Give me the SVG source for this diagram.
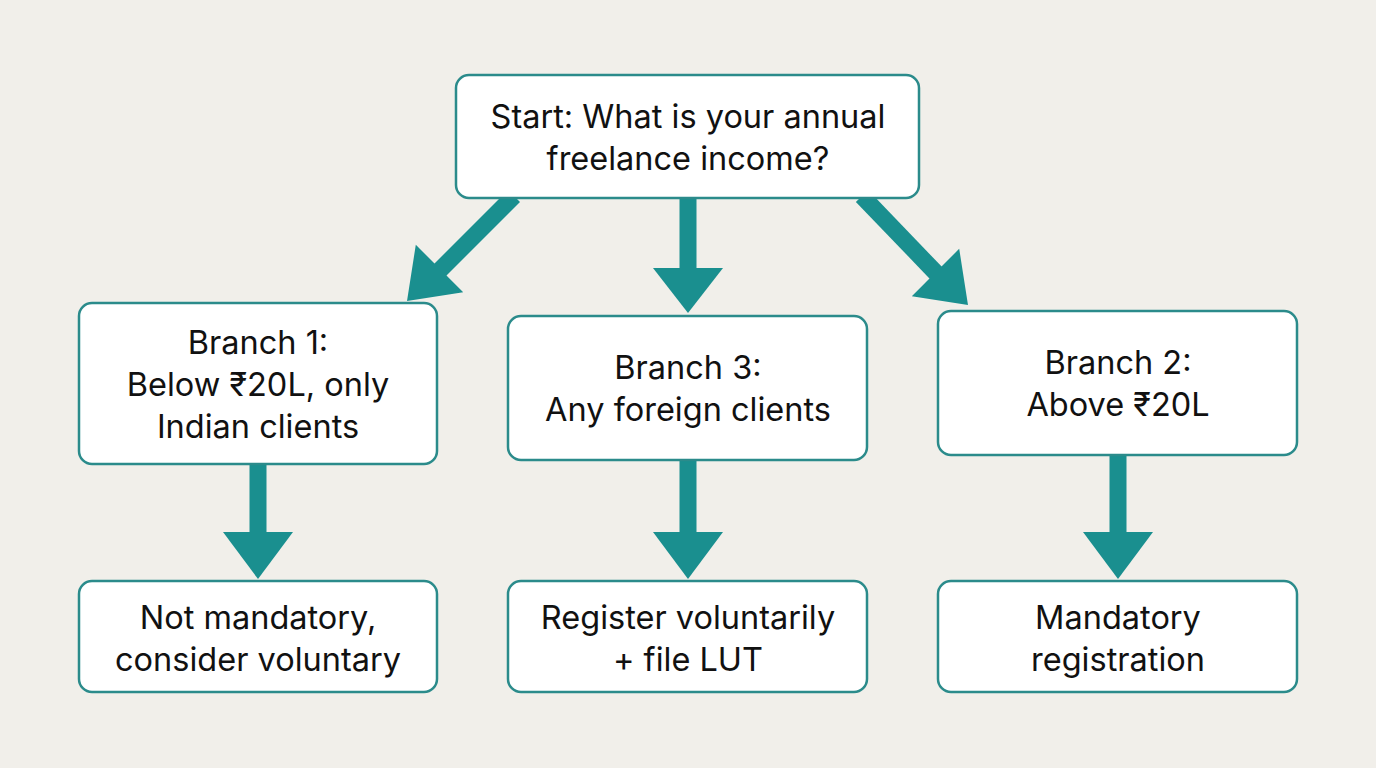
<svg xmlns="http://www.w3.org/2000/svg" width="1376" height="768" viewBox="0 0 1376 768">
<style>
.box{fill:#ffffff;stroke:#2b8b8b;stroke-width:2.5}
.t{font-family:Inter,"Noto Sans",sans-serif;font-size:32.5px;fill:#111111;text-anchor:middle}
.sh{stroke:#1a8f8f;stroke-width:17;fill:none}
.hd{fill:#1a8f8f}
</style>
<rect width="1376" height="768" fill="#f1efea"/>
<g id="connectors">
<line class="sh" x1="514" y1="196" x2="440" y2="270"/>
<polygon class="hd" points="407,301 415.8,244.8 463.2,292.2"/>
<line class="sh" x1="688" y1="196" x2="688" y2="272"/>
<polygon class="hd" points="653,268 723,268 688,313"/>
<line class="sh" x1="862" y1="196" x2="937" y2="274"/>
<polygon class="hd" points="968,305 959.2,248.8 911.8,296.2"/>
<line class="sh" x1="258" y1="463" x2="258" y2="536"/>
<polygon class="hd" points="223,532 293,532 258,579"/>
<line class="sh" x1="688" y1="459" x2="688" y2="536"/>
<polygon class="hd" points="653,532 723,532 688,579"/>
<line class="sh" x1="1118" y1="454" x2="1118" y2="536"/>
<polygon class="hd" points="1083,532 1153,532 1118,579"/>
</g>
<g id="start">
<rect class="box" x="456" y="75" width="463" height="123" rx="13"/>
<text class="t" x="688" y="128">Start: What is your annual</text>
<text class="t" x="688" y="170">freelance income?</text>
</g>
<g id="branch1">
<rect class="box" x="79" y="303" width="358" height="161" rx="13"/>
<text class="t" x="258" y="354">Branch 1:</text>
<text class="t" x="258" y="396">Below ₹20L, only</text>
<text class="t" x="258" y="438">Indian clients</text>
</g>
<g id="branch3">
<rect class="box" x="508" y="316" width="359" height="144" rx="13"/>
<text class="t" x="688" y="379">Branch 3:</text>
<text class="t" x="688" y="421">Any foreign clients</text>
</g>
<g id="branch2">
<rect class="box" x="938" y="311" width="359" height="144" rx="13"/>
<text class="t" x="1118" y="374">Branch 2:</text>
<text class="t" x="1118" y="416">Above ₹20L</text>
</g>
<g id="result1">
<rect class="box" x="79" y="581" width="358" height="111" rx="13"/>
<text class="t" x="258" y="629">Not mandatory,</text>
<text class="t" x="258" y="671">consider voluntary</text>
</g>
<g id="result3">
<rect class="box" x="508" y="581" width="359" height="111" rx="13"/>
<text class="t" x="688" y="629">Register voluntarily</text>
<text class="t" x="688" y="671">+ file LUT</text>
</g>
<g id="result2">
<rect class="box" x="938" y="581" width="359" height="111" rx="13"/>
<text class="t" x="1118" y="629">Mandatory</text>
<text class="t" x="1118" y="671">registration</text>
</g>
</svg>
